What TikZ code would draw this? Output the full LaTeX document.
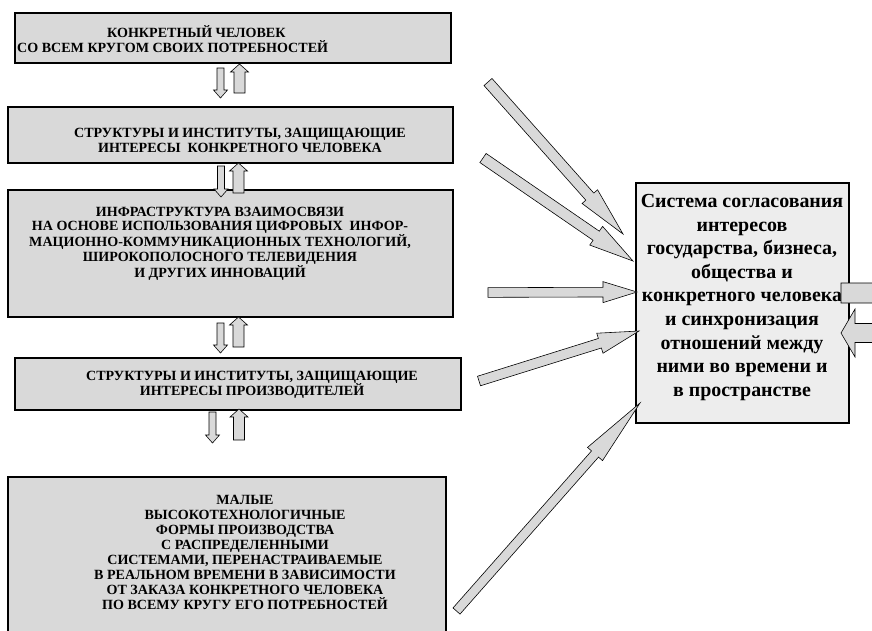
\documentclass[tikz,border=0pt]{standalone}
\usepackage{fontspec}
\setmainfont{Liberation Serif}
\usetikzlibrary{calc}
\definecolor{boxgray}{gray}{0.85}
\definecolor{sysgray}{gray}{0.93}
\tikzset{
  box/.style={draw=black, line width=1.6pt, fill=boxgray, inner sep=0pt},
  sysbox/.style={draw=black, line width=1.6pt, fill=sysgray, inner sep=0pt},
  boxtext/.style={inner sep=0pt, align=center, font=\bfseries\fontsize{12}{12.8}\selectfont},
  systext/.style={inner sep=0pt, align=center, font=\bfseries\fontsize{17}{20.1}\selectfont},
  fatarrow/.style={draw=black, line width=0.5pt, fill=boxgray, line join=miter}
}
% shaft half width, head half width, head length, tail, tip
\newcommand{\bigarrow}[5]{%
  \coordinate (hb) at ($(#5)!#3!(#4)$);
  \draw[fatarrow] ($(#4)!#1!90:(#5)$) -- ($(hb)!#1!-90:(#4)$) -- ($(hb)!#2!-90:(#4)$) -- (#5)
    -- ($(hb)!#2!90:(#4)$) -- ($(hb)!#1!90:(#4)$) -- ($(#4)!#1!-90:(#5)$) -- cycle;
}

\begin{document}
\begin{tikzpicture}[x=0.03cm, y=-0.03cm]
      \useasboundingbox (0,0) rectangle (872,630);
      \clip (0,0) rectangle (872,630);

      \node (person)  [box, minimum width=13.08cm, minimum height=1.5cm]  at (233,38)    {};
      \node (guardp)  [box, minimum width=13.35cm, minimum height=1.68cm] at (230.5,135) {};
      \node (infra)   [box, minimum width=13.35cm, minimum height=3.81cm] at (230.5,253.5) {};
      \node (guardm)  [box, minimum width=13.38cm, minimum height=1.56cm] at (238,384)   {};
      \node (smallp)  [box, minimum width=13.14cm, minimum height=4.89cm] at (227,558.5) {};
      \node (sync)    [sysbox, minimum width=6.39cm, minimum height=7.2cm] at (742.5,303) {};

      \node (personlbl) [boxtext, align=left, anchor=west] at (17,39.5)
            {\hspace*{2.7cm}КОНКРЕТНЫЙ ЧЕЛОВЕК\\СО ВСЕМ КРУГОМ СВОИХ ПОТРЕБНОСТЕЙ};
      \node (guardplbl) [boxtext] at (240,140.5)
            {СТРУКТУРЫ И ИНСТИТУТЫ, ЗАЩИЩАЮЩИЕ\\ИНТЕРЕСЫ~ КОНКРЕТНОГО ЧЕЛОВЕКА};
      \node (infralbl)  [boxtext, font=\bfseries\fontsize{12}{12.3}\selectfont] at (220,243.5)
            {ИНФРАСТРУКТУРА ВЗАИМОСВЯЗИ\\НА ОСНОВЕ ИСПОЛЬЗОВАНИЯ ЦИФРОВЫХ~ ИНФОР-\\МАЦИОННО-КОММУНИКАЦИОННЫХ ТЕХНОЛОГИЙ,\\ШИРОКОПОЛОСНОГО ТЕЛЕВИДЕНИЯ\\И ДРУГИХ ИННОВАЦИЙ};
      \node (guardmlbl) [boxtext] at (252,385)
            {СТРУКТУРЫ И ИНСТИТУТЫ, ЗАЩИЩАЮЩИЕ\\ИНТЕРЕСЫ ПРОИЗВОДИТЕЛЕЙ};
      \node (smallplbl) [boxtext] at (245,552.5)
            {МАЛЫЕ\\ВЫСОКОТЕХНОЛОГИЧНЫЕ\\ФОРМЫ ПРОИЗВОДСТВА\\С РАСПРЕДЕЛЕННЫМИ\\СИСТЕМАМИ, ПЕРЕНАСТРАИВАЕМЫЕ\\В РЕАЛЬНОМ ВРЕМЕНИ В ЗАВИСИМОСТИ\\ОТ ЗАКАЗА КОНКРЕТНОГО ЧЕЛОВЕКА\\ПО ВСЕМУ КРУГУ ЕГО ПОТРЕБНОСТЕЙ};
      \node (synclbl)   [systext] at (742,297.5)
            {Система согласования\\интересов\\государства, бизнеса,\\общества и\\конкретного человека\\и синхронизация\\отношений между\\ними во времени и\\в пространстве};

      \coordinate (d1a) at (220.5,68);   \coordinate (d1b) at (220.5,98);
      \coordinate (u1a) at (239.5,93);   \coordinate (u1b) at (239.5,64);
      \coordinate (d2a) at (221,166);    \coordinate (d2b) at (221,197);
      \coordinate (u2a) at (238.5,193);  \coordinate (u2b) at (238.5,163);
      \coordinate (d3a) at (220.5,323);  \coordinate (d3b) at (220.5,353);
      \coordinate (u3a) at (238.5,347);  \coordinate (u3b) at (238.5,317);
      \coordinate (d4a) at (212.5,412);  \coordinate (d4b) at (212.5,443);
      \coordinate (u4a) at (239,440);    \coordinate (u4b) at (239,409);

      \bigarrow{0.105cm}{0.21cm}{0.24cm}{d1a}{d1b}
      \bigarrow{0.165cm}{0.27cm}{0.24cm}{u1a}{u1b}
      \bigarrow{0.105cm}{0.21cm}{0.24cm}{d2a}{d2b}
      \bigarrow{0.165cm}{0.27cm}{0.24cm}{u2a}{u2b}
      \bigarrow{0.105cm}{0.21cm}{0.24cm}{d3a}{d3b}
      \bigarrow{0.165cm}{0.27cm}{0.24cm}{u3a}{u3b}
      \bigarrow{0.105cm}{0.21cm}{0.24cm}{d4a}{d4b}
      \bigarrow{0.165cm}{0.27cm}{0.24cm}{u4a}{u4b}

      \coordinate (in1) at (488,82);     \coordinate (to1) at (623,234);
      \coordinate (in2) at (483,158);    \coordinate (to2) at (633,261);
      \coordinate (in3) at (488,292.5);  \coordinate (to3) at (637,292);
      \coordinate (in4) at (479,381);    \coordinate (to4) at (639,331);
      \coordinate (in5) at (456.5,611);  \coordinate (to5) at (640,403);
      \coordinate (out1) at (841,293);   \coordinate (far1) at (910,293);
      \coordinate (far2) at (905,333);   \coordinate (to6) at (841,333);

      \bigarrow{0.16cm}{0.31cm}{1.5cm}{in1}{to1}
      \bigarrow{0.165cm}{0.34cm}{1.34cm}{in2}{to2}
      \bigarrow{0.145cm}{0.315cm}{1.02cm}{in3}{to3}
      \bigarrow{0.15cm}{0.315cm}{1.23cm}{in4}{to4}
      \bigarrow{0.14cm}{0.3cm}{2.04cm}{in5}{to5}
      \bigarrow{0.3cm}{0.6cm}{0.5cm}{out1}{far1}
      \bigarrow{0.285cm}{0.72cm}{0.42cm}{far2}{to6}
    \end{tikzpicture}
\end{document}
